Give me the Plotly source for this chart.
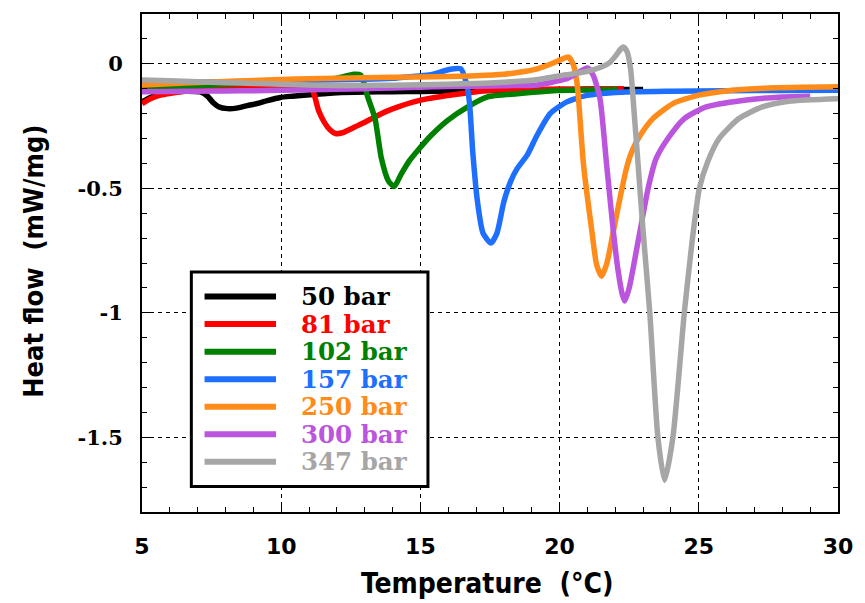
import plotly.graph_objects as go

# ---------------- data ----------------
names = ["50 bar", "81 bar", "102 bar", "157 bar", "250 bar", "300 bar", "347 bar"]
colors = ["#000000", "#ff0000", "#008000", "#1f6fff", "#ff8c1a", "#bb55dd", "#a6a6a6"]

x_50 = [5.0, 5.3, 5.7, 6.05, 6.5, 7.1, 7.35, 7.55, 7.75, 8.07, 8.4, 8.78, 9.2, 9.5, 9.97, 10.4, 10.8,
        11.5, 12.0, 13, 14, 15, 16, 17, 18, 19, 20, 21, 22, 23]
y_50 = [-0.153, -0.135, -0.122, -0.113, -0.11, -0.113, -0.13, -0.155, -0.172, -0.18, -0.178, -0.168,
        -0.158, -0.148, -0.135, -0.13, -0.126, -0.12, -0.116, -0.113, -0.112, -0.111, -0.11, -0.108,
        -0.107, -0.106, -0.105, -0.104, -0.103, -0.103]

x_81 = [5.0, 5.3, 5.7, 6.2, 7, 8, 9, 10, 10.6, 10.9, 11.05, 11.2, 11.35, 11.55, 11.75, 11.95, 12.2,
        12.66, 13.0, 13.37, 13.8, 14.2, 14.7, 15.27, 15.8, 16.46, 17.41, 18.5, 19.5, 20.5, 21.5, 22.3]
y_81 = [-0.16, -0.14, -0.125, -0.115, -0.105, -0.1, -0.097, -0.095, -0.093, -0.088, -0.087, -0.13,
        -0.19, -0.235, -0.265, -0.28, -0.277, -0.253, -0.235, -0.213, -0.19, -0.173, -0.155, -0.14,
        -0.13, -0.12, -0.107, -0.103, -0.102, -0.101, -0.1, -0.1]

x_102 = [5.0, 6, 7, 8, 9, 10, 11, 12.0, 12.3, 12.6, 12.85, 12.95, 13.1, 13.37, 13.6, 13.85, 14.06,
         14.3, 14.6, 14.95, 15.39, 15.98, 16.7, 17.41, 18.48, 19.9, 21, 22.1]
y_102 = [-0.105, -0.095, -0.088, -0.082, -0.077, -0.072, -0.066, -0.058, -0.05, -0.042, -0.045,
         -0.07, -0.13, -0.22, -0.38, -0.47, -0.493, -0.445, -0.39, -0.342, -0.287, -0.227,
         -0.173, -0.133, -0.12, -0.107, -0.104, -0.103]

x_157 = [5.0, 6, 7, 8, 9, 10, 11, 12, 13, 14, 14.8, 15.38, 15.9, 16.2, 16.45, 16.64, 16.76, 16.88,
         17.05, 17.25, 17.53, 17.75, 18.0, 18.25, 18.48, 18.84, 19.19, 19.66, 20.26, 20.98, 22, 24,
         26, 28, 30]
y_157 = [-0.078, -0.076, -0.074, -0.072, -0.07, -0.068, -0.066, -0.064, -0.062, -0.058, -0.05,
         -0.044, -0.027, -0.02, -0.02, -0.073, -0.153, -0.353, -0.553, -0.68, -0.72, -0.68, -0.553,
         -0.47, -0.42, -0.366, -0.287, -0.2, -0.153, -0.127, -0.115, -0.11, -0.108, -0.107, -0.106]

x_250 = [5.0, 6, 7, 8, 9, 10, 11, 12, 13, 14, 15, 16, 17, 18.0, 18.5, 19.2, 19.7, 20.0, 20.32, 20.5,
         20.62, 20.68, 20.86, 21.16, 21.33, 21.51, 21.7, 21.93, 22.15, 22.4, 22.6, 22.88, 23.35,
         24.07, 25, 26.2, 27.5, 30]
y_250 = [-0.085, -0.08, -0.075, -0.071, -0.067, -0.063, -0.06, -0.058, -0.056, -0.054, -0.053,
         -0.051, -0.048, -0.042, -0.035, -0.02, 0.0, 0.015, 0.027, -0.006, -0.073, -0.14, -0.406,
         -0.673, -0.807, -0.853, -0.8, -0.673, -0.55, -0.42, -0.35, -0.29, -0.22, -0.16, -0.126,
         -0.106, -0.097, -0.092]

x_300 = [5.0, 6, 7, 8, 9, 10, 11, 12, 13, 14, 15, 16, 17, 18, 19.2, 19.8, 20.26, 20.6, 21.0, 21.21,
         21.45, 21.69, 21.93, 22.1, 22.26, 22.34, 22.5, 22.82, 23.18, 23.47, 23.89, 24.48, 25.26,
         26.57, 27.99, 29.0]
y_300 = [-0.112, -0.111, -0.11, -0.109, -0.108, -0.106, -0.104, -0.102, -0.1, -0.097, -0.094,
         -0.091, -0.09, -0.088, -0.085, -0.072, -0.06, -0.04, -0.017, -0.047, -0.14, -0.406, -0.673,
         -0.83, -0.93, -0.953, -0.9, -0.713, -0.5, -0.38, -0.3, -0.22, -0.173, -0.147, -0.133, -0.13]

x_347 = [5.0, 6, 7, 8, 9, 10, 11, 12, 13, 14, 15, 16, 17, 18, 19, 19.5, 20, 20.5, 21, 21.5, 21.8,
         22.0, 22.2, 22.3, 22.42, 22.55, 22.64, 22.82, 23.0, 23.24, 23.53, 23.77, 24.07, 24.48,
         24.76, 25.02, 25.32, 25.73, 26.44, 27.28, 28.23, 30]
y_347 = [-0.065, -0.068, -0.072, -0.076, -0.079, -0.082, -0.085, -0.087, -0.087, -0.086, -0.084,
         -0.082, -0.079, -0.074, -0.066, -0.058, -0.048, -0.04, -0.03, -0.013, 0.005, 0.03, 0.06,
         0.067, 0.05, -0.02, -0.14, -0.405, -0.673, -1.0, -1.5, -1.673, -1.5, -1.0, -0.713, -0.5,
         -0.393, -0.3, -0.22, -0.173, -0.15, -0.14]

series_x = [x_50, x_81, x_102, x_157, x_250, x_300, x_347]
series_y = [y_50, y_81, y_102, y_157, y_250, y_300, y_347]

x_ticks = [5, 10, 15, 20, 25, 30]
y_ticks = [0, -0.5, -1, -1.5]
y_ticktext = ["0", "-0.5", "-1", "-1.5"]

# ---------------- figure ----------------
fig = go.Figure()
for nm, col, xs, ys in zip(names, colors, series_x, series_y):
    fig.add_trace(go.Scatter(x=xs, y=ys, mode="lines", name=nm,
                             line=dict(color=col, width=5.5, shape="spline", smoothing=0.6),
                             showlegend=False))

W, H = 865, 603
ML, MR, MT, MB = 142, 22, 12, 91
PW, PH = W - ML - MR, H - MT - MB


def px(x):
    return (x - ML) / PW


def py(y):
    return (H - MB - y) / PH


grid = dict(showgrid=True, gridcolor="black", gridwidth=1, griddash="4px,4px")
axis_common = dict(ticks="inside", ticklen=8, tickwidth=1.2, tickcolor="black",
                   showline=True, linewidth=2, linecolor="black", mirror="ticks",
                   zeroline=False, **grid)

fig.update_xaxes(range=[5, 30], tickvals=x_ticks, ticklabelstandoff=14,
                 tickfont=dict(family="DejaVu Sans", size=22, color="black", weight="bold"),
                 minor=dict(dtick=1, ticks="inside", ticklen=5, tickcolor="black", showgrid=False),
                 **axis_common)
fig.update_yaxes(range=[-1.8, 0.2], tickvals=y_ticks, ticktext=y_ticktext, ticklabelstandoff=13,
                 tickfont=dict(family="DejaVu Serif", size=21, color="black", weight="bold"),
                 minor=dict(dtick=0.1, tick0=0, ticks="inside", ticklen=5, tickcolor="black",
                            showgrid=False),
                 **axis_common)

shapes = []
annotations = []
# legend box
shapes.append(dict(type="rect", xref="paper", yref="paper", x0=px(191.7), x1=px(430),
                   y0=py(486.5), y1=py(271), line=dict(color="black", width=3),
                   fillcolor="white", layer="above"))
row0, drow = 295.7, 27.65
for i, (nm, col) in enumerate(zip(names, colors)):
    yy = py(row0 + i * drow)
    shapes.append(dict(type="line", xref="paper", yref="paper", x0=px(205), x1=px(277),
                       y0=yy, y1=yy, line=dict(color=col, width=6), layer="above"))
    annotations.append(dict(xref="paper", yref="paper", x=px(300), y=yy, text=nm,
                            showarrow=False, xanchor="left", yanchor="middle",
                            font=dict(family="DejaVu Serif", size=24.5, color=col, weight="bold")))

# axis titles
annotations.append(dict(xref="paper", yref="paper", x=px(489), y=py(584),
                        text="Temperature&nbsp;&nbsp;(°C)", showarrow=False,
                        xanchor="center", yanchor="middle",
                        font=dict(family="DejaVu Sans Condensed, DejaVu Sans", size=28,
                                  color="black", weight="bold")))
annotations.append(dict(xref="paper", yref="paper", x=px(32), y=py(260),
                        text="Heat flow&nbsp;&nbsp;(mW/mg)", showarrow=False, textangle=-90,
                        xanchor="center", yanchor="middle",
                        font=dict(family="DejaVu Sans Condensed, DejaVu Sans", size=27,
                                  color="black", weight="bold")))

fig.update_layout(width=W, height=H, margin=dict(l=ML, r=MR, t=MT, b=MB),
                  paper_bgcolor="white", plot_bgcolor="white",
                  shapes=shapes, annotations=annotations, showlegend=False)

fig.write_html("out.html")
